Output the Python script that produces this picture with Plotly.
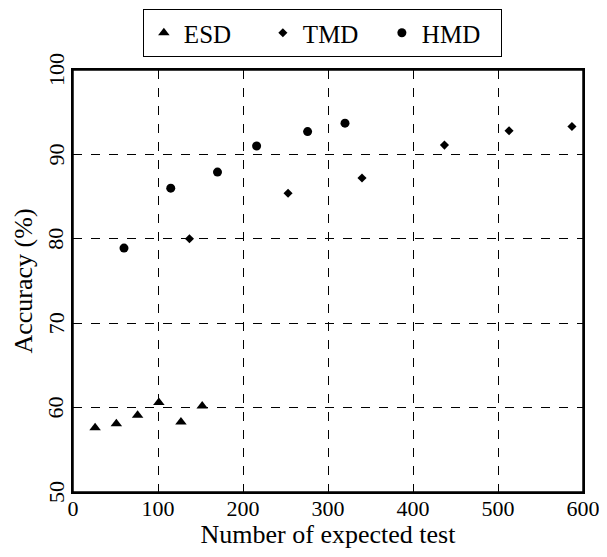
import plotly.graph_objects as go

esd_x = [26, 51, 76, 101, 127, 152]
esd_y = [57.6, 58.1, 59.1, 60.6, 58.3, 60.2]
tmd_x = [137, 253, 340, 437, 513, 587]
tmd_y = [80.0, 85.4, 87.2, 91.1, 92.8, 93.3]
hmd_x = [60, 115, 170, 216, 276, 320]
hmd_y = [78.9, 86.0, 87.9, 91.0, 92.7, 93.7]

x_ticks = [0, 100, 200, 300, 400, 500, 600]
y_ticks = [50, 60, 70, 80, 90, 100]

FONT = "Liberation Serif, Times New Roman, serif"

fig = go.Figure()
fig.add_trace(go.Scatter(x=esd_x, y=esd_y, mode="markers", name="ESD",
                         marker=dict(symbol="triangle-up", size=10, color="black")))
fig.add_trace(go.Scatter(x=tmd_x, y=tmd_y, mode="markers", name="TMD",
                         marker=dict(symbol="diamond", size=7, color="black")))
fig.add_trace(go.Scatter(x=hmd_x, y=hmd_y, mode="markers", name="HMD",
                         marker=dict(symbol="circle", size=9, color="black")))

axis_common = dict(
    showline=True, linecolor="black", linewidth=1.5, mirror=True,
    showgrid=True, gridcolor="black", gridwidth=1, griddash="dash",
    zeroline=False, ticks="", automargin=False,
    tickfont=dict(family=FONT, size=22, color="black"),
)

# rotated y tick labels, placed at the y-axis tick values
annotations = [
    dict(x=0, xref="paper", y=v, yref="y", text=str(v), showarrow=False,
         textangle=-90, xanchor="center", yanchor="middle", xshift=-17,
         font=dict(family=FONT, size=22, color="black"))
    for v in y_ticks
]

# the page body adds an 8px margin around the figure; keep the page within the window
fig.update_layout(
    width=591, height=541,
    margin=dict(l=65, r=16, t=62, b=57, autoexpand=False),
    paper_bgcolor="white", plot_bgcolor="white",
    font=dict(family=FONT, color="black"),
    showlegend=True,
    xaxis=dict(range=[0, 600], tickvals=x_ticks, ticktext=[str(v) for v in x_ticks],
               ticklabelstandoff=-4, ticklabeloverflow="allow",
               title=dict(text="Number of expected test", font=dict(family=FONT, size=26, color="black"), standoff=10),
               **axis_common),
    yaxis=dict(range=[50, 100], tickvals=y_ticks, showticklabels=False,
               title=dict(text="Accuracy (%)", font=dict(family=FONT, size=26, color="black"), standoff=31),
               **axis_common),
    annotations=annotations,
    shapes=[dict(type="rect", xref="paper", yref="paper", x0=0, x1=1, y0=0, y1=1,
                 line=dict(color="black", width=1.5), layer="above")],
    legend=dict(orientation="h", x=0.137, y=1.1445, xanchor="left", yanchor="top",
                entrywidth=74, entrywidthmode="pixels",
                bordercolor="black", borderwidth=1, bgcolor="white",
                font=dict(family=FONT, size=25, color="black")),
)

fig.write_html("out.html")
